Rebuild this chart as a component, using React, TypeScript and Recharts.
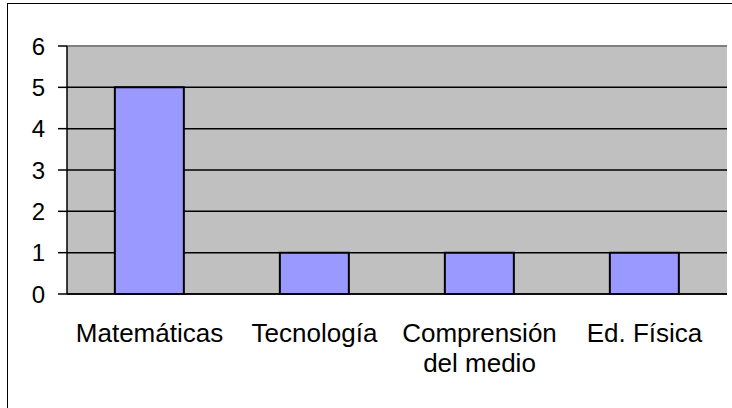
import React from "react";
import {
  BarChart,
  Bar,
  XAxis,
  YAxis,
  CartesianGrid,
  ReferenceLine,
} from "recharts";

const categories = ["Matemáticas", "Tecnología", "Comprensión del medio", "Ed. Física"];
const values = [5, 1, 1, 1];
const yTicks = [0, 1, 2, 3, 4, 5, 6];
const boundaryTicks = [0, 1, 2, 3, 4];

const data = categories.map((name, i) => ({ name, value: values[i] }));

const FONT = "'Liberation Sans', Arial, sans-serif";
const MAX_CHARS = 12;

function wrapLabel(label: string): string[] {
  const words = label.split(" ");
  const lines: string[] = [];
  let cur = "";
  for (const w of words) {
    const next = cur ? cur + " " + w : w;
    if (cur && next.length > MAX_CHARS) {
      lines.push(cur);
      cur = w;
    } else {
      cur = next;
    }
  }
  if (cur) lines.push(cur);
  return lines;
}

const CategoryTick = (props: any) => {
  const { x, y, payload } = props;
  const lines = wrapLabel(String(payload.value));
  return (
    <text
      x={x}
      y={y}
      textAnchor="middle"
      fontSize={26}
      fontFamily={FONT}
      fill="#000"
    >
      {lines.map((l, i) => (
        <tspan key={i} x={x} dy={i === 0 ? 18 : 30}>
          {l}
        </tspan>
      ))}
    </text>
  );
};

export default function App() {
  return (
    <div
      style={{
        position: "absolute",
        left: 0,
        top: 0,
        width: 732,
        height: 408,
        overflow: "hidden",
        background: "#fff",
      }}
    >
      <div
        style={{
          position: "absolute",
          left: 7,
          top: 3,
          width: 800,
          height: 500,
          borderTop: "1.5px solid #000",
          borderLeft: "1.5px solid #000",
        }}
      />
      <div style={{ position: "absolute", left: 0, top: 0 }}>
        <BarChart
          width={732}
          height={408}
          data={data}
          margin={{ top: 46, right: 5, bottom: 54, left: 0 }}
          barCategoryGap="29%"
        >
          <CartesianGrid
            vertical={false}
            fill="#C0C0C0"
            stroke="#000"
            strokeWidth={1.5}
            fillOpacity={1}
          />
          <XAxis
            xAxisId="b"
            type="number"
            domain={[0, 4]}
            ticks={boundaryTicks}
            tick={false}
            axisLine={false}
            tickLine={{ stroke: "#000", strokeWidth: 1.5 }}
            tickSize={8}
            height={0}
            orientation="bottom"
          />
          <XAxis
            dataKey="name"
            interval={0}
            axisLine={{ stroke: "#000", strokeWidth: 1.5 }}
            tickLine={false}
            tickSize={0}
            tickMargin={30}
            height={60}
            tick={<CategoryTick />}
          />
          <YAxis
            domain={[0, 6]}
            ticks={yTicks}
            interval={0}
            width={67}
            axisLine={{ stroke: "#000", strokeWidth: 1.5 }}
            tickLine={{ stroke: "#000", strokeWidth: 1.5 }}
            tickSize={9}
            tickMargin={13}
            tick={{ fill: "#000", fontSize: 24, fontFamily: FONT }}
          />
          <ReferenceLine y={6} stroke="#808080" strokeWidth={2} />
          <ReferenceLine x={4} xAxisId="b" stroke="#808080" strokeWidth={2} />
          <Bar
            dataKey="value"
            fill="#9999FF"
            stroke="#000"
            strokeWidth={2}
            isAnimationActive={false}
          />
        </BarChart>
      </div>
    </div>
  );
}
